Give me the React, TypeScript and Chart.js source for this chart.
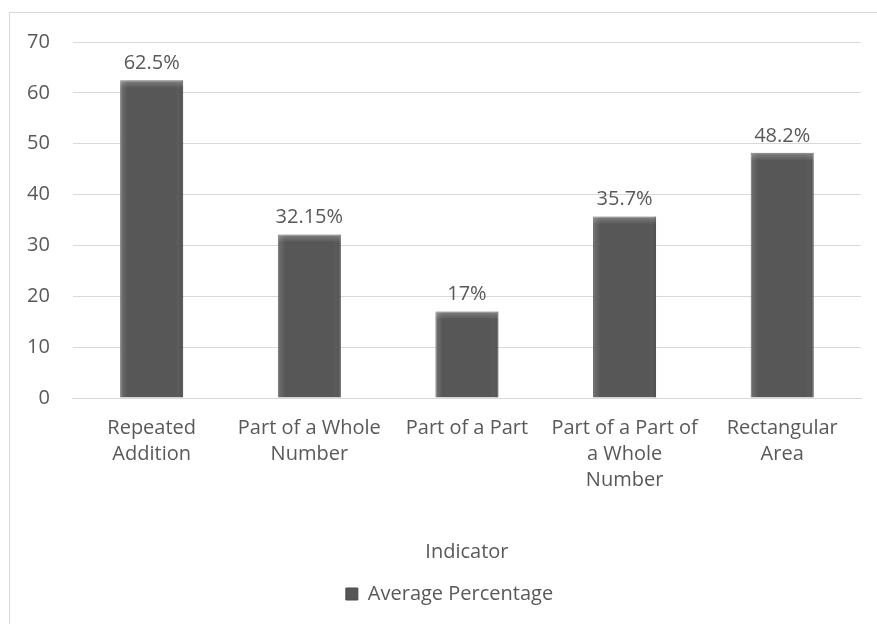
import React, { useEffect, useRef } from "react";
import { Chart, registerables } from "chart.js";

Chart.register(...registerables);

const categories: string[][] = [
  ["Repeated", "Addition"],
  ["Part of a Whole", "Number"],
  ["Part of a Part"],
  ["Part of a Part of", "a Whole", "Number"],
  ["Rectangular", "Area"],
];
const values: number[] = [62.5, 32.15, 17, 35.7, 48.2];
const seriesName = "Average Percentage";
const xTitle = "Indicator";
const yMax = 70;
const yStep = 10;

const FONT = "'Open Sans', 'Noto Sans', sans-serif";
const TEXT = "#595959";
const FS = 20;

const barStyle = {
  id: "barStyle",
  afterLayout(chart: any) {
    const lg = chart.legend;
    if (lg) {
      lg.left += 17;
      lg.right += 17;
    }
  },
  afterDatasetsDraw(chart: any) {
    const ctx = chart.ctx;
    const meta = chart.getDatasetMeta(0);
    meta.data.forEach((el: any, i: number) => {
      const left = el.x - el.width / 2;
      const right = el.x + el.width / 2;
      const top = el.y;
      const bottom = el.base;
      ctx.save();
      const g = ctx.createLinearGradient(left, 0, right, 0);
      g.addColorStop(0, "rgba(255,255,255,0.16)");
      g.addColorStop(0.12, "rgba(255,255,255,0.0)");
      g.addColorStop(0.88, "rgba(255,255,255,0.0)");
      g.addColorStop(1, "rgba(0,0,0,0.12)");
      ctx.fillStyle = g;
      ctx.fillRect(left, top, right - left, bottom - top);
      const t = ctx.createLinearGradient(0, top, 0, top + 8);
      t.addColorStop(0, "rgba(255,255,255,0.25)");
      t.addColorStop(1, "rgba(255,255,255,0)");
      ctx.fillStyle = t;
      ctx.fillRect(left, top, right - left, Math.min(8, bottom - top));
      ctx.fillStyle = TEXT;
      ctx.font = `${FS}px ${FONT}`;
      ctx.textAlign = "center";
      ctx.textBaseline = "middle";
      ctx.fillText(`${values[i]}%`, el.x, top - 17);
      ctx.restore();
    });
  },
};

export default function App() {
  const ref = useRef<HTMLCanvasElement>(null);
  useEffect(() => {
    if (!ref.current) return;
    const chart = new Chart(ref.current, {
      type: "bar",
      data: {
        labels: categories,
        datasets: [
          {
            label: seriesName,
            data: values,
            backgroundColor: "#575757",
            borderColor: "#4a4a4a",
            borderWidth: 1,
            barPercentage: 0.4,
            categoryPercentage: 1,
          },
        ],
      },
      options: {
        animation: false,
        responsive: false,
        devicePixelRatio: 1,
        layout: { padding: { top: 42, right: 16, left: 4, bottom: 10 } },
        plugins: {
          legend: {
            position: "bottom",
            labels: {
              color: TEXT,
              font: { family: FONT, size: FS },
              boxWidth: 12,
              boxHeight: 12,
              padding: 10,
            },
          },
          tooltip: { enabled: false },
        },
        scales: {
          x: {
            grid: { display: false },
            border: { color: "#d9d9d9" },
            ticks: {
              color: TEXT,
              font: { family: FONT, size: FS, lineHeight: 1.3 },
              maxRotation: 0,
              autoSkip: false,
              padding: 9,
            },
            title: {
              display: true,
              text: xTitle,
              color: TEXT,
              font: { family: FONT, size: FS },
              padding: { top: 38, bottom: 10 },
            },
          },
          y: {
            min: 0,
            max: yMax,
            grid: { color: "#d9d9d9", drawTicks: false },
            border: { display: false },
            ticks: {
              stepSize: yStep,
              color: TEXT,
              font: { family: FONT, size: FS },
              padding: 23,
            },
          },
        },
      },
      plugins: [barStyle],
    });
    return () => chart.destroy();
  }, []);
  return (
    <div style={{ position: "fixed", left: 0, top: 0, width: 877, height: 624, background: "#fff", overflow: "hidden" }}>
      <div style={{ position: "absolute", left: 9, top: 12, width: 900, height: 700, border: "1px solid #d9d9d9" }} />
      <canvas ref={ref} width={877} height={624} style={{ position: "absolute", left: 0, top: 0 }} />
    </div>
  );
}
